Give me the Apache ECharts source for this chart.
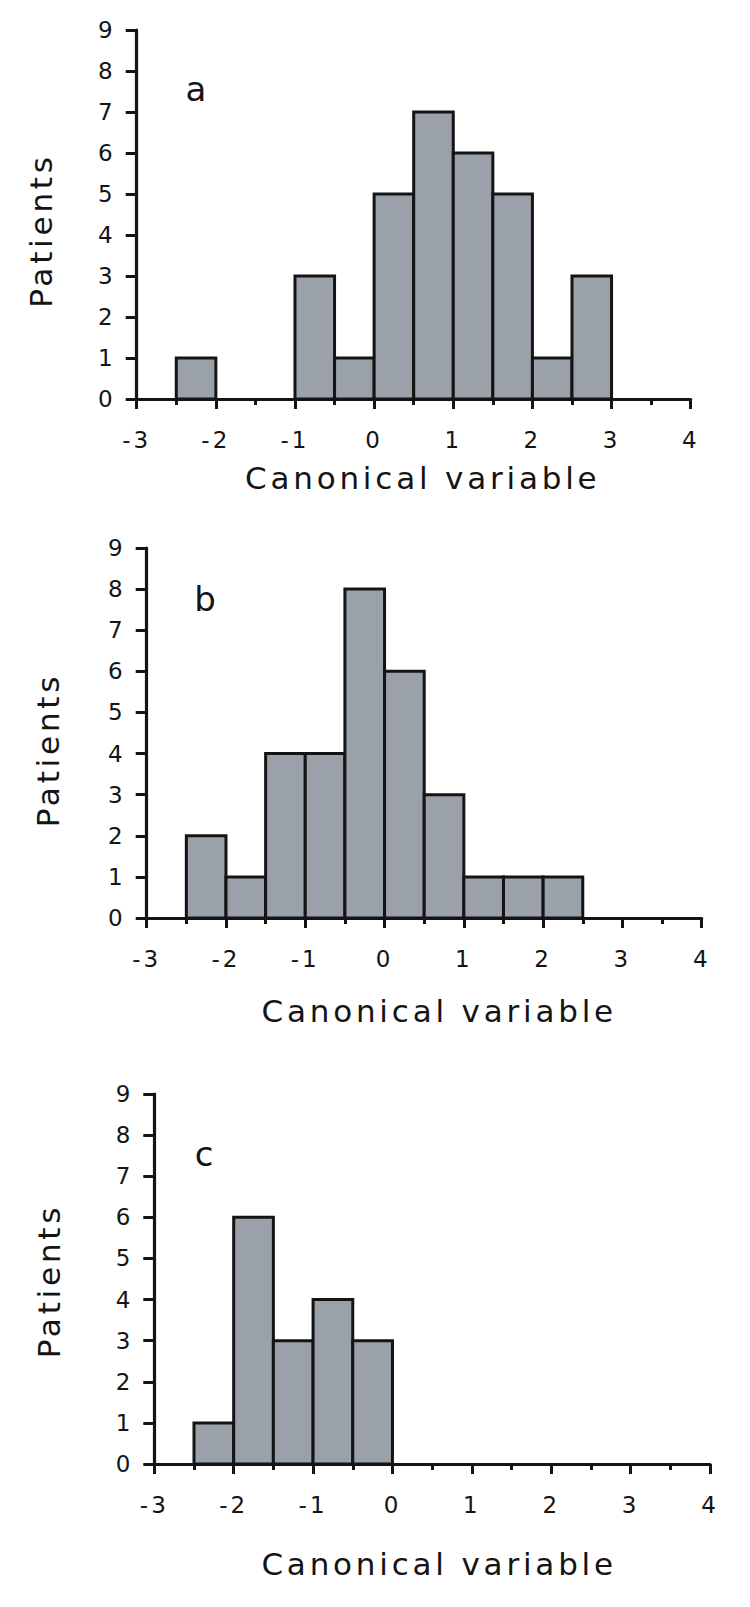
<!DOCTYPE html>
<html><head><meta charset="utf-8">
<script src="https://cdn.jsdelivr.net/npm/echarts@6/dist/echarts.min.js"></script>
<style>
html,body{margin:0;padding:0;background:#fff}
#c{width:750px;height:1607px}
#c svg text[style*=" 31px"]{letter-spacing:3.8px}
#c svg text[style*=" 23px"]{letter-spacing:3px}
</style></head><body><div id="c"></div>
<script>
// ---- data ----
const binStarts = [-3, -2.5, -2, -1.5, -1, -0.5, 0, 0.5, 1, 1.5, 2, 2.5, 3, 3.5];
const binWidth = 0.5;
const countsA = [0, 1, 0, 0, 3, 1, 5, 7, 6, 5, 1, 3, 0, 0];
const countsB = [0, 2, 1, 4, 4, 8, 6, 3, 1, 1, 1, 0, 0, 0];
const countsC = [0, 1, 6, 3, 4, 3, 0, 0, 0, 0, 0, 0, 0, 0];
const xTickLabels = ['-3', '-2', '-1', '0', '1', '2', '3', '4'];
const yTickLabels = ['0', '1', '2', '3', '4', '5', '6', '7', '8', '9'];
const panelLetters = ['a', 'b', 'c'];
const xTitle = 'Canonical variable';
const yTitle = 'Patients';

// ---- layout ----
const FONT = '"DejaVu Sans", "Liberation Sans", Arial, sans-serif';
const INK = '#141414';
const grids = [
  {left: 136.7, top: 30, width: 554, height: 369},
  {left: 146.7, top: 548, width: 555, height: 370},
  {left: 154.3, top: 1094, width: 555.7, height: 370}
];
const xNameGap = [63, 77, 84];
const xNamePad = [18, 30, 14];
const yNameGap = [80, 83, 90];
const yNamePad = [32, 34, 4];
const letterPos = [[196, 89], [205, 599], [204, 1154]];

const allCounts = [countsA, countsB, countsC];
const xMin = Number(xTickLabels[0]), xMax = Number(xTickLabels[xTickLabels.length - 1]);
const yMax = Number(yTickLabels[yTickLabels.length - 1]);

const option = {
  animation: false,
  backgroundColor: '#fff',
  grid: grids.map(g => Object.assign({containLabel: false, outerBoundsMode: 'none'}, g)),
  xAxis: grids.map((g, i) => ({
    type: 'value', gridIndex: i, min: xMin, max: xMax, interval: 1,
    axisLine: {show: true, onZero: false, lineStyle: {color: INK, width: 3.2}},
    axisTick: {show: true, inside: false, length: 10, lineStyle: {color: INK, width: 3}},
    minorTick: {show: true, splitNumber: 2, length: 6, lineStyle: {color: INK, width: 3}},
    splitLine: {show: false}, minorSplitLine: {show: false},
    axisLabel: {margin: 29, fontSize: 23, color: INK, fontFamily: FONT},
    name: xTitle, nameLocation: 'middle', nameGap: xNameGap[i],
    nameTextStyle: {fontSize: 31, color: INK, fontFamily: FONT, padding: [0, 0, 0, xNamePad[i]]}
  })),
  yAxis: grids.map((g, i) => ({
    type: 'value', gridIndex: i, min: 0, max: yMax, interval: 1,
    axisLine: {show: true, onZero: false, lineStyle: {color: INK, width: 3.2}},
    axisTick: {show: true, inside: false, length: 11, lineStyle: {color: INK, width: 3}},
    splitLine: {show: false},
    axisLabel: {margin: 21, fontSize: 23, color: INK, fontFamily: FONT},
    name: yTitle, nameLocation: 'middle', nameGap: yNameGap[i],
    nameTextStyle: {fontSize: 31, color: INK, fontFamily: FONT, padding: [0, yNamePad[i], 0, 0]}
  })),
  series: allCounts.map((counts, i) => ({
    type: 'custom', xAxisIndex: i, yAxisIndex: i,
    data: binStarts.map((s, k) => [s, s + binWidth, counts[k]]),
    encode: {x: [0, 1], y: 2},
    renderItem: function (params, api) {
      const x0 = api.value(0), x1 = api.value(1), n = api.value(2);
      if (!n) return null;
      const p0 = api.coord([x0, n]);
      const p1 = api.coord([x1, 0]);
      return {
        type: 'rect',
        shape: {x: p0[0], y: p0[1], width: p1[0] - p0[0], height: p1[1] - p0[1]},
        style: {fill: '#9aa1a9', stroke: INK, lineWidth: 3}
      };
    }
  })),
  graphic: panelLetters.map((t, i) => ({
    type: 'text', x: letterPos[i][0], y: letterPos[i][1],
    style: {text: t, fontSize: 34, fontFamily: FONT, fill: INK, align: 'center', verticalAlign: 'middle'}
  }))
};

const chart = echarts.init(document.getElementById('c'), null, {renderer: 'svg', width: 750, height: 1607});
chart.setOption(option);
</script></body></html>
